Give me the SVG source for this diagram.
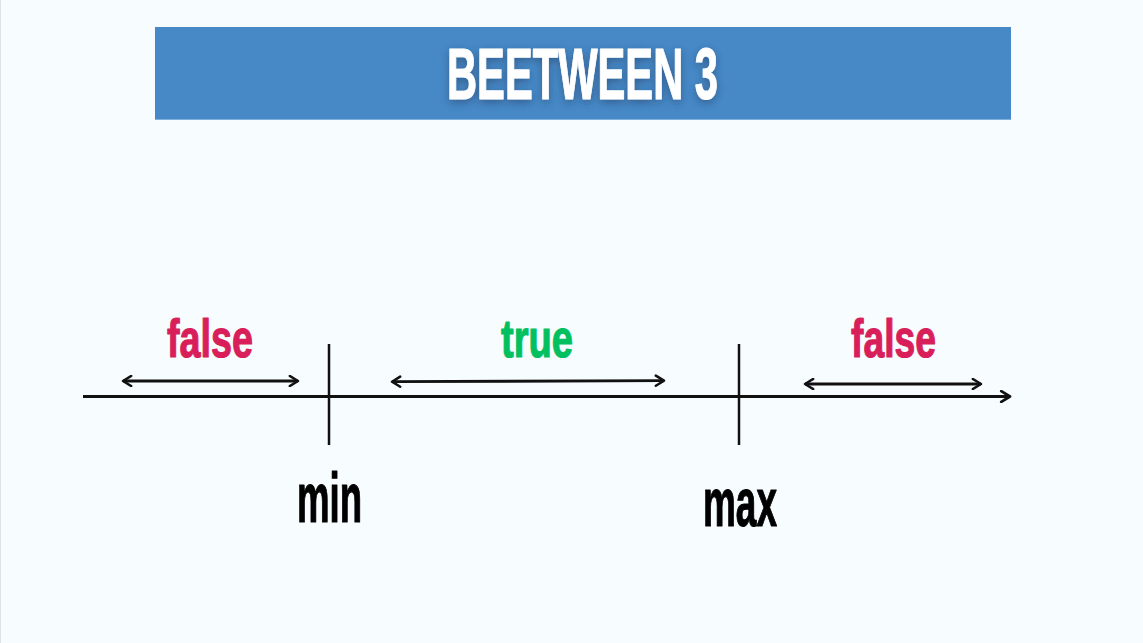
<svg xmlns="http://www.w3.org/2000/svg" width="1143" height="643" viewBox="0 0 1143 643">
<style>
.lbl{font-family:"Liberation Sans",Arial,sans-serif;font-weight:bold;stroke-width:1.2;stroke-linejoin:round}
.false{fill:#d81f5a;stroke:#d81f5a}
.true{fill:#02c05f;stroke:#02c05f}
.blk{fill:#000;stroke:#000}
.axis{stroke:#111;stroke-width:3;fill:none}
.tick{stroke:#111;stroke-width:2.5;fill:none}
.rng{stroke:#111;stroke-width:2.8;fill:none}
</style>
<defs>
<marker id="chev" viewBox="0 0 10 10" refX="8" refY="5" markerWidth="4.5" markerHeight="4.5" orient="auto-start-reverse" markerUnits="strokeWidth">
<path d="M1.5,1 L8,5 L1.5,9" fill="none" stroke="#111" stroke-width="2" stroke-linecap="round" stroke-linejoin="round"/>
</marker>
<filter id="sh" x="-10%" y="-30%" width="120%" height="160%">
<feDropShadow dx="0" dy="3" stdDeviation="4" flood-color="#1a3a60" flood-opacity="0.55"/>
</filter>
</defs>
<rect x="0" y="0" width="1143" height="643" fill="#f7fcfe"/>
<line x1="0.5" y1="0" x2="0.5" y2="643" stroke="#dfe3e8" stroke-width="1"/>
<g id="banner">
<rect x="155" y="27" width="856" height="93" fill="#4789c7"/>
<line x1="155" y1="119.5" x2="1011" y2="119.5" stroke="#7fb0dc" stroke-width="1"/>
<text class="lbl" x="447" y="99" font-size="73" textLength="271" lengthAdjust="spacingAndGlyphs" fill="#fff" stroke="#fff" filter="url(#sh)">BEETWEEN 3</text>
</g>
<g id="connectors">
<line class="axis" x1="83" y1="396.5" x2="1010" y2="396.5" marker-end="url(#chev)"/>
<line class="tick" x1="329" y1="344" x2="329" y2="445"/>
<line class="tick" x1="739" y1="344" x2="739" y2="445"/>
<line class="rng" x1="123" y1="381" x2="298" y2="381" marker-start="url(#chev)" marker-end="url(#chev)"/>
<line class="rng" x1="392" y1="381.7" x2="664" y2="380.7" marker-start="url(#chev)" marker-end="url(#chev)"/>
<line class="rng" x1="805" y1="384" x2="981" y2="384" marker-start="url(#chev)" marker-end="url(#chev)"/>
</g>
<g id="false-left">
<text class="lbl false" x="167" y="357" font-size="53" textLength="86" lengthAdjust="spacingAndGlyphs">false</text>
</g>
<g id="true-mid">
<text class="lbl true" x="501" y="357" font-size="53" textLength="72" lengthAdjust="spacingAndGlyphs">true</text>
</g>
<g id="false-right">
<text class="lbl false" x="851" y="357" font-size="53" textLength="85" lengthAdjust="spacingAndGlyphs">false</text>
</g>
<g id="min">
<text class="lbl blk" x="297" y="522" font-size="70" textLength="65" lengthAdjust="spacingAndGlyphs">min</text>
</g>
<g id="max">
<text class="lbl blk" x="703" y="526" font-size="68" textLength="74" lengthAdjust="spacingAndGlyphs">max</text>
</g>
</svg>
